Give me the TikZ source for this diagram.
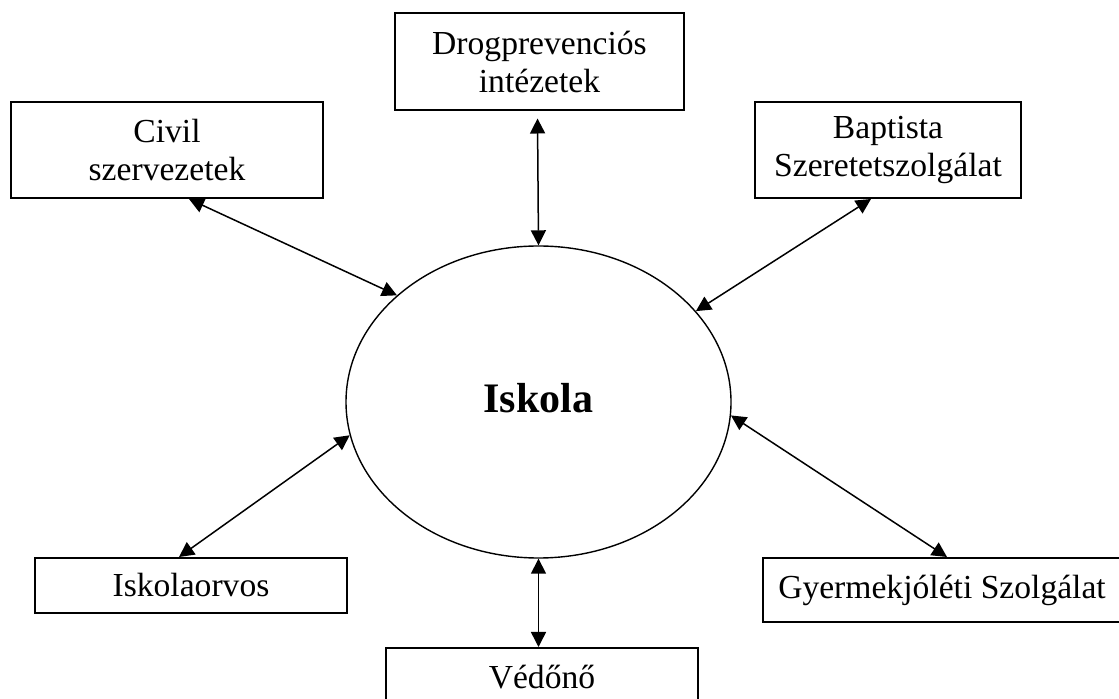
\documentclass[tikz,border=0pt]{standalone}
\usepackage{fontspec}
\setmainfont{Liberation Serif}
\usepackage{tikz}
\usetikzlibrary{shapes,arrows,positioning,calc,arrows.meta}

\begin{document}
\begin{tikzpicture}[
    x=0.5pt, y=-0.5pt,
    partner box/.style={draw, line width=1pt, rectangle, align=center, inner sep=0pt,
        font=\fontsize{16.8}{19}\selectfont},
    school/.style={draw, line width=0.7pt, ellipse, inner sep=0pt,
        minimum width=192.5pt, minimum height=156pt, font=\fontsize{21}{24}\selectfont\bfseries},
    link/.style={line width=0.75pt, {Triangle[length=7.5pt,width=7.5pt]}-{Triangle[length=7.5pt,width=7.5pt]}}
]
    \clip (0,0) rectangle (1119,699);
    \useasboundingbox (0,0) rectangle (1119,699);
    \node [school] (iskola) at (538.5,402) {\raisebox{4pt}{Iskola}};
    \node [partner box, minimum width=156pt, minimum height=48pt] (civil) at (167,150) {Civil\\szervezetek};
    \node [partner box, minimum width=144.5pt, minimum height=48.5pt] (drog) at (539.5,62) {Drogprevenciós\\intézetek};
    \node [partner box, minimum width=133pt, minimum height=48pt] (baptista) at (888,150) {Baptista\\Szeretetszolgálat};
    \node [partner box, minimum width=156pt, minimum height=27.5pt] (orvos) at (191,585.5) {Iskolaorvos};
    \node [partner box, minimum width=156pt, minimum height=29pt] (vedono) at (542,677) {Védőnő};
    \node [partner box, minimum width=179pt, minimum height=32pt] (gyermek) at (942,590) {Gyermekjóléti Szolgálat};

    \draw [link] ($(civil.south)+(22,0)$) -- (iskola.143);
    \draw [link] ($(drog.south)+(-2,7)$) -- (iskola.north);
    \draw [link] ($(baptista.south)+(-17,0)$) -- (iskola.30);
    \draw [link] ($(orvos.north)+(-12,0)$) -- (iskola.190);
    \draw [link] (iskola.south) -- (iskola.south |- vedono.north);
    \draw [link] (iskola.356) -- ($(gyermek.north)+(5,0)$);
\end{tikzpicture}
\end{document}
